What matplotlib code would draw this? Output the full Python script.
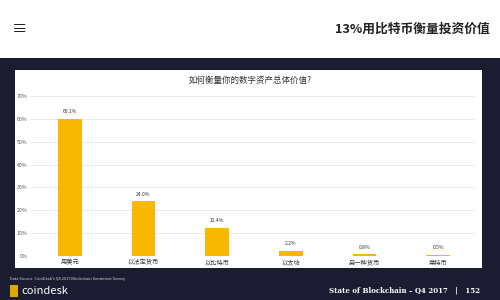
import matplotlib.pyplot as plt
from matplotlib.patches import Rectangle

plt.rcParams['font.family'] = ['Noto Sans CJK SC', 'DejaVu Sans']

categories = ['用美元', '以法定货币', '以比特币', '以太坊', '另一种货币', '莱特币']
shares = [60.1, 24.0, 12.4, 2.2, 0.8, 0.5]
y_ticks = [0, 10, 20, 30, 40, 50, 60, 70]

chart_title = '如何衡量你的数字资产总体价值?'
page_title = '13%用比特币衡量投资价值'
source_note = "Data Source: CoinDesk's Q4 2017 Blockchain Sentiment Survey"
footer = 'State of Blockchain – Q4 2017   |   152'

navy = '#1b1c31'
bar_color = '#f9b700'

fig = plt.figure(figsize=(5, 3), dpi=100)
fig.patch.set_facecolor('white')

# dark slide background and white chart panel (behind the axes)
fig.patches.append(Rectangle((0, 0), 1, 242 / 300, transform=fig.transFigure,
                             facecolor=navy, edgecolor='none', zorder=-2))
fig.patches.append(Rectangle((15 / 500, 32 / 300), 467 / 500, 198 / 300,
                             transform=fig.transFigure, facecolor='white',
                             edgecolor='none', zorder=-1))

# page header
fig.text(12 / 500, 1 - 29 / 300, '≡', fontsize=11, color='#222222',
         ha='left', va='center')
fig.text(490 / 500, 1 - 29 / 300, page_title, fontsize=9.2, fontweight='bold',
         color='#222222', ha='right', va='center')

ax = fig.add_axes([30 / 500, 44 / 300, 445 / 500, 164.6 / 300])
ax.set_facecolor('none')
pos = list(range(len(categories)))
ax.bar(pos, shares, width=0.32, color=bar_color, zorder=2)
for x, v in zip(pos, shares):
    ax.text(x, v + 2, f'{v:.1f}%', ha='center', va='bottom', fontsize=3.6,
            color='#333333')

ax.set_xlim(-0.54, 5.5)
ax.set_ylim(0, 72)
ax.set_yticks(y_ticks)
ax.set_yticklabels([f'{t}%' for t in y_ticks], fontsize=3.8, color='#555555')
ax.set_xticks(pos)
ax.set_xticklabels(categories, fontsize=4.5, color='#333333')
ax.tick_params(length=0, pad=2)
ax.grid(axis='y', color='#e8e8e8', linewidth=0.6, zorder=0)
for s in ax.spines.values():
    s.set_visible(False)

fig.text(250 / 500, 1 - 80 / 300, chart_title, fontsize=6.1, color='#333333',
         ha='center', va='center')

# footer on the dark slide
fig.text(10 / 500, 1 - 279 / 300, source_note, fontsize=2.8, color='#dddddd',
         ha='left', va='center')
fig.text(21 / 500, 1 - 291 / 300, 'coindesk', fontsize=8, color='white',
         ha='left', va='center')
fig.patches.append(Rectangle((10 / 500, 1 - 297 / 300), 8 / 500, 12 / 300,
                             transform=fig.transFigure, facecolor='#e0a800',
                             edgecolor='none', zorder=1))
fig.text(480 / 500, 1 - 290 / 300, footer, fontsize=5, color='white',
         family='DejaVu Serif', fontweight='bold', ha='right', va='center')

fig.savefig('out.png', dpi=100)
